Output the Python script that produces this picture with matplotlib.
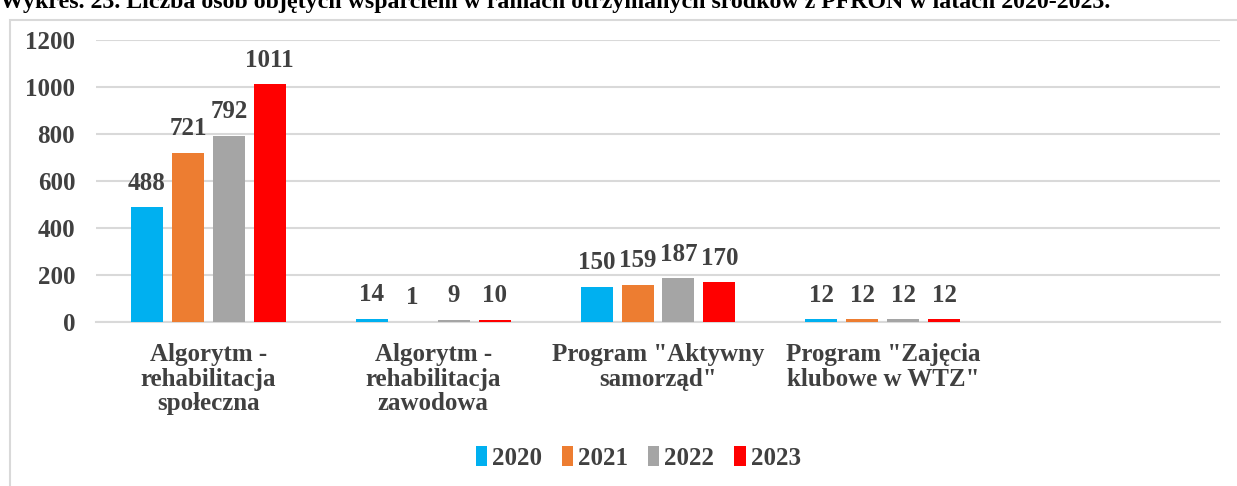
import numpy as np
import matplotlib.pyplot as plt
from matplotlib.patches import Rectangle

categories = ["Algorytm -\nrehabilitacja\nspołeczna", "Algorytm -\nrehabilitacja\nzawodowa",
              "Program \"Aktywny\nsamorząd\"", "Program \"Zajęcia\nklubowe w WTZ\"", ""]
years = ["2020", "2021", "2022", "2023"]
v2020 = [488, 14, 150, 12, None]
v2021 = [721, 1, 159, 12, None]
v2022 = [792, 9, 187, 12, None]
v2023 = [1011, 10, 170, 12, None]
series = [v2020, v2021, v2022, v2023]
colors = ["#00B0F0", "#ED7D31", "#A5A5A5", "#FF0000"]

plt.rcParams['font.family'] = ['Liberation Serif', 'DejaVu Serif']
plt.rcParams['font.weight'] = 'bold'
txt = "#404040"

fig = plt.figure(figsize=(12.37, 4.86), dpi=100)
fig.patches.append(Rectangle((10 / 1237, -0.1), 1.2, 1 - 20 / 486 + 0.1, transform=fig.transFigure,
                             fill=False, edgecolor="#D9D9D9", linewidth=1.5, zorder=0))
fig.text(0.0, 1 - 8 / 486, "Wykres. 23. Liczba osób objętych wsparciem w ramach otrzymanych środków z PFRON w latach 2020-2023.",
         ha="left", va="baseline", fontsize=17.2, fontweight="bold", color="black")

ax = fig.add_axes([96 / 1237, 1 - 322 / 486, (1220 - 96) / 1237, (322 - 40) / 486])
x = np.arange(len(categories))
w = 0.142
step = 0.182
for i, (vals, c, yr) in enumerate(zip(series, colors, years)):
    xs = [xx + (i - 1.5) * step for xx, v in zip(x, vals) if v is not None]
    vs = [v for v in vals if v is not None]
    ax.bar(xs, vs, width=w, color=c, label=yr, zorder=3)
    for xx, v in zip(xs, vs):
        ax.annotate(str(v), (xx, v), xytext=(0, 9), textcoords="offset points",
                    ha="center", va="bottom", fontsize=18, fontweight="bold", color=txt)

ax.set_xlim(-0.5, len(categories) - 0.5)
ax.set_ylim(0, 1200)
ax.set_yticks(range(0, 1201, 200))
ax.yaxis.grid(True, color="#D9D9D9", linewidth=1.5, zorder=0)
ax.set_axisbelow(True)
for s in ["top", "right", "left"]:
    ax.spines[s].set_visible(False)
ax.spines["bottom"].set_color("#D9D9D9")
ax.spines["bottom"].set_linewidth(1.5)
ax.tick_params(axis="both", length=0, labelsize=18, labelcolor=txt)
ax.tick_params(axis="y", pad=15)
ax.tick_params(axis="x", pad=15)
ax.set_xticks(x)
ax.set_xticklabels(categories, fontweight="bold", linespacing=1.1)
for lab in ax.get_yticklabels():
    lab.set_fontweight("bold")

leg = fig.legend(loc="center", bbox_to_anchor=(638 / 1237, 1 - 458 / 486), ncol=4, frameon=False,
                 fontsize=18, handlelength=0.45, handleheight=0.8, handletextpad=0.2, columnspacing=0.8)
for t in leg.get_texts():
    t.set_color(txt)
    t.set_fontweight("bold")

fig.savefig("out.png", dpi=100)
